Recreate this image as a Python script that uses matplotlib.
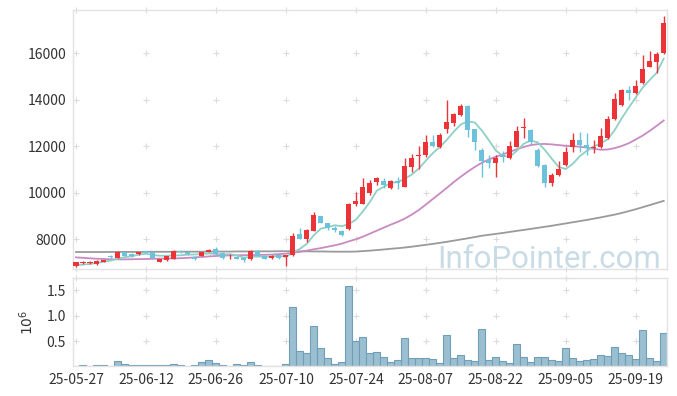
import numpy as np
import pandas as pd
import matplotlib
matplotlib.use('Agg')
import matplotlib.pyplot as plt

plt.rcParams['font.family'] = ['Noto Sans CJK KR', 'DejaVu Sans']

# --- data ---
holidays = ['2025-06-03', '2025-06-06', '2025-08-15']
dates = pd.bdate_range('2025-05-27', '2025-09-25', freq='C', holidays=holidays)

opens = [6850, 6950, 6960, 6930, 7010, 7290, 7190, 7420, 7360, 7340,
         7480, 7440, 7020, 7080, 7150, 7490, 7430, 7240, 7290, 7460,
         7570, 7390, 7210, 7240, 7200, 7130, 7500, 7280, 7170, 7300,
         7220, 7300, 8210, 8000, 8360, 8990, 8670, 8490, 8360, 8430,
         9490, 9510, 9990, 10440, 10500, 10190, 10500, 10250, 11110, 11580,
         11610, 12190, 11970, 12720, 12990, 13340, 13720, 12720, 11830, 11400,
         11280, 11610, 11470, 11970, 12760, 12690, 11830, 11180, 10400, 10750,
         11200, 11970, 12250, 12040, 11900, 11960, 12340, 13160, 13770, 14410,
         14270, 14720, 15400, 15600, 15990]
highs = [7020, 7050, 7040, 7080, 7100, 7330, 7490, 7440, 7380, 7460,
         7500, 7450, 7150, 7290, 7510, 7530, 7460, 7260, 7450, 7560,
         7640, 7420, 7360, 7260, 7220, 7540, 7520, 7300, 7310, 7320,
         7330, 8250, 8460, 8410, 9180, 9010, 8700, 8560, 8390, 9560,
         10010, 10610, 10540, 10660, 10620, 10540, 10660, 11500, 11640, 12000,
         12470, 12470, 12550, 13980, 13420, 13800, 13750, 12740, 11920, 11610,
         11600, 11780, 12230, 12850, 13190, 12750, 11910, 11230, 10850, 11350,
         11950, 12550, 12620, 12580, 12260, 12770, 13290, 14290, 14450, 14580,
         14820, 15910, 16100, 16060, 17600]
lows = [6790, 6920, 6940, 6900, 6990, 7200, 7180, 7270, 7230, 7330,
        7380, 7150, 6990, 7060, 7130, 7380, 7320, 7110, 7270, 7440,
        7330, 7160, 7130, 7120, 6990, 7110, 7260, 7120, 7150, 7150,
        6850, 7290, 7980, 7880, 8340, 8680, 8400, 8310, 8110, 8380,
        9440, 9490, 9890, 10310, 10200, 10150, 10150, 10230, 10890, 11010,
        11540, 11960, 11920, 12560, 12860, 13280, 12400, 11830, 10680, 11040,
        10680, 11300, 11440, 11940, 12330, 12070, 11100, 10250, 10300, 10700,
        11150, 11750, 11750, 11610, 11690, 11900, 12320, 13130, 13700, 13980,
        14230, 14680, 15380, 15130, 15950]
closes = [6990, 7010, 7010, 7040, 7080, 7230, 7450, 7290, 7250, 7440,
          7400, 7180, 7130, 7270, 7490, 7420, 7340, 7140, 7430, 7540,
          7350, 7200, 7220, 7140, 7100, 7490, 7280, 7140, 7290, 7170,
          7300, 8130, 7990, 8390, 9030, 8700, 8470, 8370, 8180, 9500,
          9630, 10250, 10410, 10610, 10330, 10490, 10400, 11140, 11500, 11620,
          12190, 12010, 12470, 13050, 13380, 13720, 12700, 12190, 11370, 11280,
          11500, 11540, 12000, 12650, 12800, 12190, 11140, 10400, 10750, 11010,
          11750, 12250, 12040, 11900, 11960, 12410, 13160, 14010, 14410, 14270,
          14580, 15300, 15650, 15960, 17290]
volume = [0.00, 0.02, 0.00, 0.02, 0.02, 0.01, 0.11, 0.04, 0.03, 0.03,
          0.03, 0.03, 0.03, 0.03, 0.05, 0.03, 0.015, 0.03, 0.08, 0.12,
          0.06, 0.03, 0.01, 0.04, 0.03, 0.08, 0.03, 0.01, 0.01, 0.01,
          0.04, 1.16, 0.30, 0.26, 0.79, 0.36, 0.16, 0.04, 0.08, 1.58,
          0.50, 0.58, 0.26, 0.28, 0.19, 0.08, 0.13, 0.56, 0.17, 0.17,
          0.17, 0.15, 0.07, 0.62, 0.17, 0.23, 0.13, 0.11, 0.74, 0.13,
          0.19, 0.11, 0.07, 0.44, 0.19, 0.09, 0.19, 0.19, 0.13, 0.11,
          0.36, 0.17, 0.11, 0.13, 0.15, 0.23, 0.21, 0.38, 0.26, 0.23,
          0.15, 0.72, 0.17, 0.11, 0.66]
ma5 = [6870, 6900, 6930, 6970, 7026, 7074, 7162, 7218, 7260, 7332,
       7366, 7312, 7280, 7284, 7294, 7298, 7330, 7332, 7364, 7374,
       7360, 7332, 7348, 7290, 7202, 7230, 7246, 7230, 7260, 7274,
       7236, 7406, 7576, 7796, 8168, 8448, 8516, 8592, 8550, 8644,
       8830, 9186, 9594, 10080, 10246, 10418, 10448, 10594, 10772, 11030,
       11370, 11692, 11958, 12268, 12620, 12926, 13064, 13008, 12672, 12252,
       11808, 11576, 11538, 11794, 12098, 12236, 12156, 11836, 11456, 11098,
       11010, 11232, 11560, 11790, 11980, 12112, 12294, 12688, 13190, 13652,
       14086, 14514, 14842, 15152, 15756]
ma20 = [7210, 7190, 7170, 7150, 7140, 7130, 7125, 7125, 7130, 7135,
        7140, 7150, 7155, 7160, 7165, 7175, 7190, 7210, 7230, 7250,
        7270, 7285, 7295, 7300, 7305, 7310, 7315, 7320, 7330, 7350,
        7370, 7410, 7450, 7500, 7560, 7610, 7670, 7730, 7800, 7900,
        7990, 8100, 8230, 8360, 8490, 8620, 8740, 8880, 9050, 9250,
        9480, 9720, 9960, 10200, 10450, 10680, 10900, 11100, 11280, 11420,
        11540, 11640, 11750, 11860, 11960, 12040, 12080, 12090, 12070, 12040,
        12010, 11990, 11970, 11930, 11880, 11840, 11850, 11910, 12000, 12120,
        12280, 12450, 12650, 12870, 13100]
ma_long = [7440, 7440, 7440, 7440, 7440, 7445, 7445, 7445, 7445, 7445,
           7450, 7450, 7450, 7450, 7450, 7455, 7455, 7455, 7455, 7460,
           7460, 7460, 7460, 7465, 7465, 7465, 7470, 7470, 7470, 7475,
           7475, 7475, 7470, 7470, 7465, 7465, 7460, 7455, 7455, 7455,
           7460, 7480, 7500, 7525, 7550, 7580, 7605, 7635, 7670, 7710,
           7750, 7790, 7835, 7880, 7930, 7980, 8030, 8085, 8140, 8180,
           8220, 8260, 8305, 8350, 8390, 8435, 8480, 8525, 8570, 8620,
           8670, 8720, 8770, 8820, 8875, 8930, 8990, 9050, 9120, 9200,
           9280, 9370, 9460, 9550, 9640]

UP = '#ec3338'
DOWN = '#6cc2da'
GRID = '#dcdcdc'
SPINE = '#e2e2e2'

x = np.arange(len(dates))
o = np.array(opens); h = np.array(highs); l = np.array(lows); c = np.array(closes)
up = c >= o

fig = plt.figure(figsize=(6.77, 3.96), dpi=100)
ax = fig.add_axes([0.1078, 0.3207, 0.877, 0.654])
axv = fig.add_axes([0.1078, 0.0745, 0.877, 0.2247], sharex=ax)

# watermark
ax.text(0.99, 0.004, 'InfoPointer.com', transform=ax.transAxes, ha='right', va='baseline',
        fontsize=22.5, color='#c9dce6', family=['Roboto', 'DejaVu Sans'], zorder=0)

# moving averages
ax.plot(x, ma_long, color='#9a9a9a', lw=1.3, zorder=2)
ax.plot(x, ma20, color='#c98ac2', lw=1.3, zorder=2)
ax.plot(x, ma5, color='#8fd0c6', lw=1.3, zorder=2)

# candles
colors = np.where(up, UP, DOWN)
ax.vlines(x, l, h, colors=colors, lw=1, zorder=3)
body_bottom = np.minimum(o, c)
body_h = np.maximum(np.abs(c - o), 25)
ax.bar(x, body_h, bottom=body_bottom, width=0.72, color=colors, linewidth=0, zorder=4)

# volume
axv.bar(x, volume, width=1.0, color='#9bbfd0', edgecolor='#6f9fb7', linewidth=0.8, zorder=2)

xticks = np.arange(0, len(dates), 10)
for a in (ax, axv):
    a.set_xlim(-0.43, 84.43)
    a.tick_params(length=0, labelsize=10, colors='#333333', pad=5)
    for s in a.spines.values():
        s.set_color(SPINE)
        s.set_linewidth(1)
    a.set_xticks(xticks)

ax.set_ylim(6710, 17850)
ax.set_yticks([8000, 10000, 12000, 14000, 16000])
ax.tick_params(labelbottom=False)

axv.set_ylim(0, 1.745)
axv.set_yticks([0.5, 1.0, 1.5])
axv.set_yticklabels(['0.5', '1.0', '1.5'])
axv.set_xticklabels([dates[i].strftime('%y-%m-%d') for i in xticks])
axv.set_ylabel(r'$10^6$', fontsize=10, color='#333333', labelpad=8)

# grid drawn as small crosses at tick intersections
for a, yt in ((ax, [6710, 8000, 10000, 12000, 14000, 16000, 17850]),
              (axv, [0.5, 1.0, 1.5, 1.745])):
    gx, gy = np.meshgrid(xticks, yt)
    a.plot(gx.ravel(), gy.ravel(), ls='none', marker='+', ms=5, mew=0.8,
           color=GRID, zorder=1, clip_on=False)

fig.savefig('out.png', dpi=100)
